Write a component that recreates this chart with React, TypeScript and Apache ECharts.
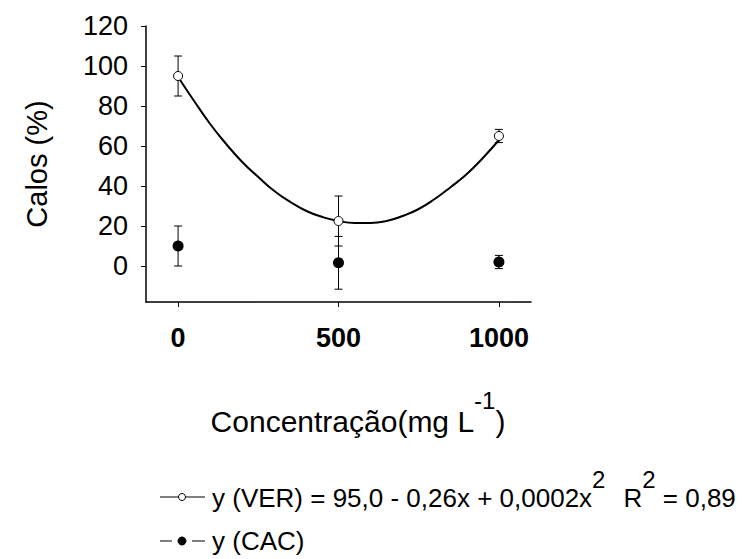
import React, { useEffect, useRef } from "react";
import * as echarts from "echarts";

// ---- data ----
const concentrations = [0, 500, 1000];
const verMean = [95, 22.5, 65];
const verErr = [10, 12.5, 3.3];
const cacMean = [10, 1.6, 2];
const cacErr = [10, 13.2, 3.3];

// fitted curve for VER
const fitX = [0, 50, 100, 150, 200, 250, 300, 350, 400, 450, 500, 550, 600, 650, 700, 750, 800, 850, 900, 950, 1000];
const fitY = [94.5, 82.5, 71, 61, 52, 44.5, 37.5, 32, 27.5, 24.5, 22.5, 21.5, 21.5, 22.5, 25, 28.5, 33.5, 39.5, 46, 54, 63];

const xTicks = [0, 500, 1000];
const yTicks = [0, 20, 40, 60, 80, 100, 120];

const FONT = "Liberation Sans, Arial, sans-serif";

export default function App() {
  const ref = useRef<HTMLDivElement>(null);

  useEffect(() => {
    if (!ref.current) return;
    const chart = echarts.init(ref.current, undefined, { renderer: "svg" });

    const errorBar = (params: any, api: any) => {
      const x = api.value(0);
      const y = api.value(1);
      const e = api.value(2);
      const top = api.coord([x, y + e]);
      const bot = api.coord([x, y - e]);
      const hw = 4;
      const st = { stroke: "#000", lineWidth: 1 };
      return {
        type: "group",
        children: [
          { type: "line", shape: { x1: top[0], y1: top[1], x2: bot[0], y2: bot[1] }, style: st },
          { type: "line", shape: { x1: top[0] - hw, y1: top[1], x2: top[0] + hw, y2: top[1] }, style: st },
          { type: "line", shape: { x1: bot[0] - hw, y1: bot[1], x2: bot[0] + hw, y2: bot[1] }, style: st },
        ],
      };
    };

    const supRich = {
      a: { fontSize: 26, fontFamily: FONT, color: "#000", lineHeight: 62, verticalAlign: "middle" },
      s: { fontSize: 24, fontFamily: FONT, color: "#000", verticalAlign: "top" },
      g: { fontSize: 26, fontFamily: FONT, color: "#000", lineHeight: 62, verticalAlign: "middle", width: 18 },
    };

    chart.setOption({
      animation: false,
      backgroundColor: "#fff",
      grid: { left: 146, right: 216, top: 26, bottom: 257, containLabel: false },
      xAxis: {
        type: "value",
        min: -100,
        max: 1100,
        axisLine: { show: true, onZero: false, lineStyle: { color: "#000", width: 1.5 } },
        axisTick: { show: true, customValues: xTicks, length: 5, lineStyle: { color: "#000", width: 1 } },
        axisLabel: {
          customValues: xTicks,
          formatter: (v: number) => String(v),
          margin: 22,
          color: "#000",
          fontSize: 27,
          fontWeight: "bold",
          fontFamily: FONT,
        },
        splitLine: { show: false },
      },
      yAxis: {
        type: "value",
        min: -18,
        max: 120,
        axisLine: { show: true, onZero: false, lineStyle: { color: "#000", width: 1.5 } },
        axisTick: { show: true, customValues: yTicks, length: 5, lineStyle: { color: "#000", width: 1 } },
        axisLabel: {
          customValues: yTicks,
          formatter: (v: number) => String(v),
          margin: 18,
          color: "#000",
          fontSize: 27,
          fontFamily: FONT,
        },
        splitLine: { show: false },
      },
      graphic: [
        {
          type: "text",
          x: 37,
          y: 164,
          rotation: Math.PI / 2,
          style: {
            text: "Calos (%)",
            fontSize: 29,
            fontFamily: FONT,
            fill: "#000",
            align: "center",
            verticalAlign: "middle",
          },
        },
        {
          type: "text",
          x: 358,
          y: 421,
          style: {
            text: "{a|Concentração(mg L}{s|-1}{a|)}",
            align: "center",
            verticalAlign: "middle",
            rich: {
              a: { fontSize: 30, fontFamily: FONT, color: "#000", lineHeight: 66, verticalAlign: "middle" },
              s: { fontSize: 24, fontFamily: FONT, color: "#000", verticalAlign: "top" },
            },
          },
        },
        // legend row 1
        { type: "line", shape: { x1: 160, y1: 497, x2: 205, y2: 497 }, style: { stroke: "#000", lineWidth: 1 } },
        { type: "circle", shape: { cx: 182, cy: 497, r: 3.5 }, style: { fill: "#fff", stroke: "#000", lineWidth: 1 } },
        {
          type: "text",
          x: 212,
          y: 498,
          style: {
            text: "{a|y (VER) = 95,0 - 0,26x + 0,0002x}{s|2}{g| }{a|R}{s|2}{a| = 0,89}",
            align: "left",
            verticalAlign: "middle",
            rich: supRich,
          },
        },
        // legend row 2
        { type: "line", shape: { x1: 160, y1: 541, x2: 172, y2: 541 }, style: { stroke: "#000", lineWidth: 1 } },
        { type: "line", shape: { x1: 192, y1: 541, x2: 205, y2: 541 }, style: { stroke: "#000", lineWidth: 1 } },
        { type: "circle", shape: { cx: 182, cy: 541, r: 4 }, style: { fill: "#000", stroke: "#000", lineWidth: 1 } },
        {
          type: "text",
          x: 212,
          y: 541,
          style: {
            text: "y (CAC)",
            fontSize: 26,
            fontFamily: FONT,
            fill: "#000",
            align: "left",
            verticalAlign: "middle",
          },
        },
      ],
      series: [
        {
          name: "fit",
          type: "line",
          data: fitX.map((x, i) => [x, fitY[i]]),
          smooth: true,
          showSymbol: false,
          symbol: "none",
          lineStyle: { color: "#000", width: 2 },
          z: 2,
        },
        {
          name: "VER err",
          type: "custom",
          renderItem: errorBar,
          data: concentrations.map((x, i) => [x, verMean[i], verErr[i]]),
          z: 3,
        },
        {
          name: "CAC err",
          type: "custom",
          renderItem: errorBar,
          data: concentrations.map((x, i) => [x, cacMean[i], cacErr[i]]),
          z: 3,
        },
        {
          name: "VER",
          type: "scatter",
          data: concentrations.map((x, i) => [x, verMean[i]]),
          symbol: "circle",
          symbolSize: 9,
          itemStyle: { color: "#fff", borderColor: "#000", borderWidth: 1, opacity: 1 },
          z: 5,
        },
        {
          name: "CAC",
          type: "scatter",
          data: concentrations.map((x, i) => [x, cacMean[i]]),
          symbol: "circle",
          symbolSize: 11,
          itemStyle: { color: "#000", opacity: 1 },
          z: 5,
        },
      ],
    });

    return () => chart.dispose();
  }, []);

  return (
    <div
      ref={ref}
      style={{ position: "fixed", left: 0, top: 0, width: 747, height: 559, background: "#fff" }}
    />
  );
}
